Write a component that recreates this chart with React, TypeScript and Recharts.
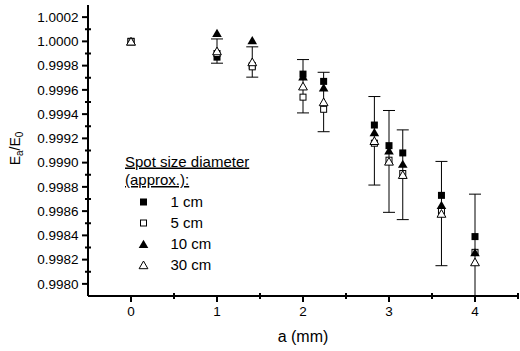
import React from 'react';
import { ScatterChart, Scatter, XAxis, YAxis, ErrorBar, Legend } from 'recharts';

// ---- data ----
const aValues = [0, 1, 1.41, 2, 2.24, 2.83, 3, 3.16, 3.61, 4];
const spot1cm = [1.0, 0.99987, 0.9998, 0.99973, 0.99967, 0.99931, 0.99914, 0.99908, 0.99873, 0.99839];
const spot5cm = [1.0, 0.9999, 0.99979, 0.99954, 0.99944, 0.99916, 0.99902, 0.99891, 0.9986, 0.99826];
const spot10cm = [1.0, 1.00007, 1.00001, 0.99971, 0.99962, 0.99925, 0.9991, 0.99899, 0.99865, 0.99826];
const spot30cm = [1.0, 0.99992, 0.99983, 0.99963, 0.9995, 0.99918, 0.99901, 0.9989, 0.99858, 0.99818];
const err30cm = [null, 0.0001, 0.000125, 0.00022, 0.000245, 0.000365, 0.00042, 0.00037, 0.00043, 0.00056];

const seriesNames = ['1 cm', '5 cm', '10 cm', '30 cm'];
const legendTitle = ['Spot size diameter', '(approx.):'];

const xTicks = [0, 0.5, 1, 1.5, 2, 2.5, 3, 3.5, 4, 4.5];
const xMajorTicks = [0, 1, 2, 3, 4];
const yTicks = [
  0.998, 0.9981, 0.9982, 0.9983, 0.9984, 0.9985, 0.9986, 0.9987, 0.9988, 0.9989,
  0.999, 0.9991, 0.9992, 0.9993, 0.9994, 0.9995, 0.9996, 0.9997, 0.9998, 0.9999,
  1.0, 1.0001, 1.0002,
];
const yMajorTicks = [0.998, 0.9982, 0.9984, 0.9986, 0.9988, 0.999, 0.9992, 0.9994, 0.9996, 0.9998, 1.0, 1.0002];

const data1 = aValues.map((a, i) => ({ a, v: spot1cm[i] }));
const data5 = aValues.map((a, i) => ({ a, v: spot5cm[i] }));
const data10 = aValues.map((a, i) => ({ a, v: spot10cm[i] }));
const data30 = aValues.map((a, i) => ({ a, v: spot30cm[i], err: err30cm[i] }));

const FONT = '"Liberation Sans", Arial, Helvetica, sans-serif';

// chart geometry
const W = 520;
const H = 351;
const MARGIN = { top: 5, right: 2, bottom: 0, left: 0 };
const Y_AXIS_W = 88;
const X_AXIS_H = 55;
const PLOT = {
  x: MARGIN.left + Y_AXIS_W,
  y: MARGIN.top,
  w: W - MARGIN.left - MARGIN.right - Y_AXIS_W,
  h: H - MARGIN.top - MARGIN.bottom - X_AXIS_H,
};

// ---- marker shapes ----
const FilledSquare = ({ cx, cy }: any) => (
  <rect x={cx - 3.5} y={cy - 3.5} width={7} height={7} fill="#000" />
);
const OpenSquare = ({ cx, cy }: any) => (
  <rect x={cx - 3} y={cy - 3} width={6} height={6} fill="#fff" stroke="#000" strokeWidth={1} />
);
const FilledTriangle = ({ cx, cy }: any) => (
  <path d={`M${cx},${cy - 4.2}L${cx + 4.8},${cy + 4}L${cx - 4.8},${cy + 4}Z`} fill="#000" />
);
const OpenTriangle = ({ cx, cy }: any) => (
  <path
    d={`M${cx},${cy - 4}L${cx + 4.4},${cy + 3.7}L${cx - 4.4},${cy + 3.7}Z`}
    fill="#fff"
    stroke="#000"
    strokeWidth={1}
  />
);
const markers = [FilledSquare, OpenSquare, FilledTriangle, OpenTriangle];

const isMajor = (v: number, majors: number[]) => majors.some((m) => Math.abs(m - v) < 1e-9);

const YTick = (props: any) => {
  const { x, y, payload } = props;
  const v = payload.value;
  if (isMajor(v, yMajorTicks)) {
    return (
      <g>
        <line x1={x - 6} y1={y} x2={x} y2={y} stroke="#000" strokeWidth={2} />
        <text x={x - 9.5} y={y + 4.7} textAnchor="end" fontSize={13.5} fontFamily={FONT} fill="#000">
          {v.toFixed(4)}
        </text>
      </g>
    );
  }
  return <line x1={x - 3} y1={y} x2={x + 3} y2={y} stroke="#000" strokeWidth={2} />;
};

const XTick = (props: any) => {
  const { x, y, payload } = props;
  const v = payload.value;
  if (isMajor(v, xMajorTicks)) {
    return (
      <g>
        <line x1={x} y1={y} x2={x} y2={y + 6} stroke="#000" strokeWidth={2} />
        <text x={x} y={y + 19.5} textAnchor="middle" fontSize={13.5} fontFamily={FONT} fill="#000">
          {String(v)}
        </text>
      </g>
    );
  }
  return <line x1={x} y1={y - 3} x2={x} y2={y + 3} stroke="#000" strokeWidth={2} />;
};

const XLabel = (props: any) => {
  const vb = props.viewBox || {};
  return (
    <text x={vb.x + vb.width / 2} y={vb.y + 46} textAnchor="middle" fontSize={16} fontFamily={FONT} fill="#000">
      a (mm)
    </text>
  );
};

const YLabel = (props: any) => {
  const vb = props.viewBox || {};
  const cx = 20;
  const cy = vb.y + vb.height / 2 - 2;
  return (
    <text
      x={cx}
      y={cy}
      transform={`rotate(-90, ${cx}, ${cy})`}
      textAnchor="middle"
      fontSize={14}
      fontFamily={FONT}
      fill="#000"
    >
      E<tspan dy={3} fontSize={10}>a</tspan>
      <tspan dy={-3}>/E</tspan>
      <tspan dy={3} fontSize={10}>0</tspan>
    </text>
  );
};

const renderLegend = () => (
  <svg width={170} height={130} style={{ display: 'block', overflow: 'visible' }}>
    <text x={5} y={16.5} fontSize={15} fontFamily={FONT} fill="#000" textDecoration="underline">
      {legendTitle[0]}
    </text>
    <text x={5} y={35} fontSize={15} fontFamily={FONT} fill="#000" textDecoration="underline">
      {legendTitle[1]}
    </text>
    {seriesNames.map((name, i) => {
      const M = markers[i];
      const cy = 52 + i * 21;
      return (
        <g key={name}>
          <M cx={23.5} cy={cy} />
          <text x={50.5} y={cy + 5.3} fontSize={15} fontFamily={FONT} fill="#000">
            {name}
          </text>
        </g>
      );
    })}
  </svg>
);

export default function App() {
  return (
    <div style={{ position: 'absolute', left: 0, top: 0, width: W, height: H, background: '#fff' }}>
      <svg width={0} height={0} style={{ position: 'absolute' }}>
        <defs>
          <clipPath id="plotAreaClip" clipPathUnits="userSpaceOnUse">
            <rect x={PLOT.x} y={PLOT.y} width={PLOT.w} height={PLOT.h} />
          </clipPath>
        </defs>
      </svg>
      <ScatterChart width={W} height={H} margin={MARGIN}>
        <XAxis
          dataKey="a"
          type="number"
          domain={[-0.5, 4.5]}
          ticks={xTicks}
          interval={0}
          tickSize={0}
          tickMargin={0}
          tickLine={false}
          tick={<XTick />}
          height={X_AXIS_H}
          axisLine={{ stroke: '#000', strokeWidth: 2 }}
          label={<XLabel />}
        />
        <YAxis
          dataKey="v"
          type="number"
          domain={[0.9979, 1.0003]}
          allowDataOverflow
          ticks={yTicks}
          interval={0}
          tickSize={0}
          tickMargin={0}
          tickLine={false}
          tick={<YTick />}
          width={Y_AXIS_W}
          axisLine={{ stroke: '#000', strokeWidth: 2 }}
          label={<YLabel />}
        />
        <Legend
          layout="vertical"
          align="center"
          verticalAlign="middle"
          content={renderLegend}
          wrapperStyle={{ left: 120, top: 150, width: 170, height: 130 }}
        />
        <Scatter name={seriesNames[0]} data={data1} shape={<FilledSquare />} isAnimationActive={false} />
        <Scatter name={seriesNames[1]} data={data5} shape={<OpenSquare />} isAnimationActive={false} />
        <Scatter name={seriesNames[2]} data={data10} shape={<FilledTriangle />} isAnimationActive={false} />
        <Scatter name={seriesNames[3]} data={data30} shape={<OpenTriangle />} isAnimationActive={false}>
          <ErrorBar
            dataKey="err"
            direction="y"
            width={6}
            stroke="#000"
            strokeWidth={1}
            clipPath="url(#plotAreaClip)"
            isAnimationActive={false}
          />
        </Scatter>
      </ScatterChart>
    </div>
  );
}
